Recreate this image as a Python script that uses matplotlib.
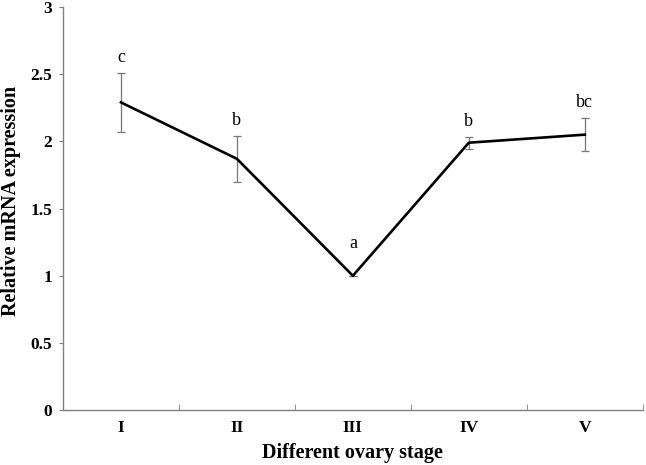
import matplotlib.pyplot as plt

stages = ["I", "II", "III", "IV", "V"]
expression = [2.29, 1.87, 1.0, 1.99, 2.05]
error = [0.22, 0.17, 0.0, 0.045, 0.125]
letters = ["c", "b", "a", "b", "bc"]

plt.rcParams["font.family"] = ["Liberation Serif", "DejaVu Serif"]

fig = plt.figure(figsize=(6.46, 4.65), dpi=100)
ax = fig.add_axes([0.0975, 0.118, 0.8975, 0.867])

x = list(range(len(stages)))
ax.errorbar(x, expression, yerr=error, fmt="none", ecolor="#777777",
            elinewidth=0.9, capsize=3, capthick=0.9)
ax.plot(x, expression, color="black", linewidth=1.9)

for xi, m, e, lab in zip(x, expression, error, letters):
    top = m + e if e > 0 else m + 0.13
    ax.text(xi, top + 0.05, lab, ha="center", va="bottom", fontsize=13)

ax.set_xlim(-0.5, len(stages) - 0.5)
ax.set_ylim(0, 3)
ax.set_yticks([0, 0.5, 1, 1.5, 2, 2.5, 3])
ax.set_yticklabels(["0", "0.5", "1", "1.5", "2", "2.5", "3"],
                   fontsize=12.5, fontweight="bold")
ax.set_xticks(x)
ax.set_xticklabels(stages, fontsize=12.5, fontweight="bold")
ax.tick_params(axis="x", which="major", length=0, pad=7)
ax.set_xticks([i + 0.5 for i in x], minor=True)
ax.tick_params(axis="x", which="minor", direction="in", length=4,
               color="#808080")
ax.tick_params(axis="y", direction="out", length=3, color="#808080", pad=5)

for s in ["top", "right"]:
    ax.spines[s].set_visible(False)
for s in ["left", "bottom"]:
    ax.spines[s].set_color("#808080")
    ax.spines[s].set_linewidth(1.0)

ax.set_xlabel("Different ovary stage", fontsize=14.5, fontweight="bold",
              labelpad=5)
ax.set_ylabel("Relative mRNA expression", fontsize=14.5, fontweight="bold")
ax.yaxis.set_label_coords(-0.072, 0.52)

fig.savefig("out.png", dpi=100)
